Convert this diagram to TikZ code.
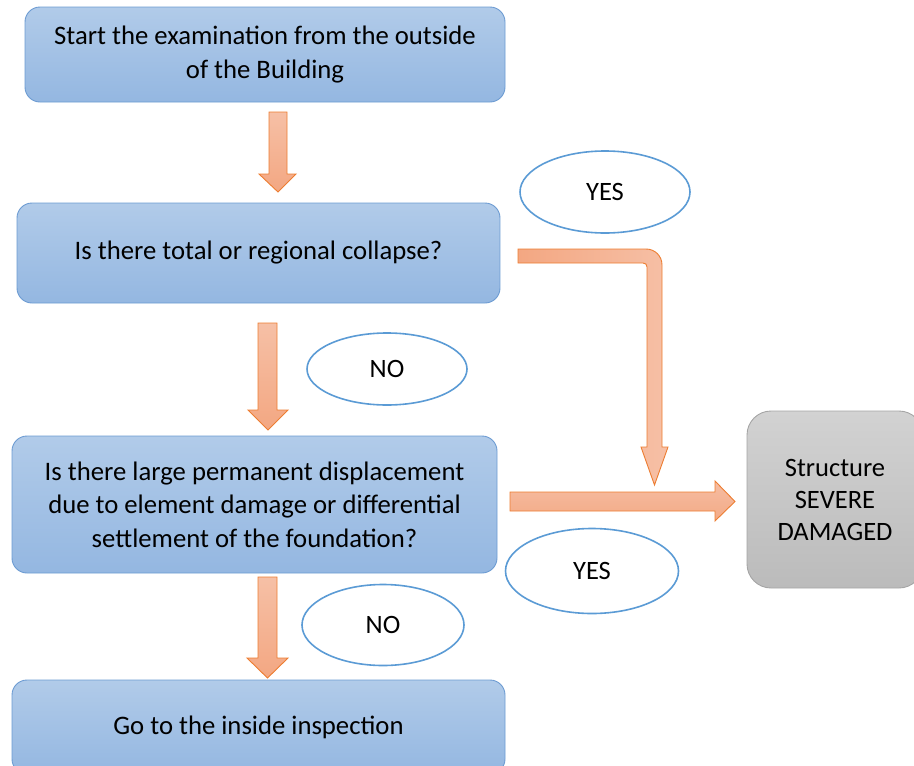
\documentclass[tikz,border=0pt]{standalone}
\usepackage{fontspec}
\setmainfont{Carlito}
\usetikzlibrary{shapes.geometric}
\definecolor{boxtop}{HTML}{B1CBE9}
\definecolor{boxbot}{HTML}{94B7E1}
\definecolor{boxline}{HTML}{6C9BD2}
\definecolor{arrline}{HTML}{ED7D31}
\definecolor{arrlight}{HTML}{F6C0A6}
\definecolor{arrdark}{HTML}{F3A782}
\definecolor{graytop}{HTML}{D2D2D2}
\definecolor{graybot}{HTML}{BBBBBB}
\definecolor{grayline}{HTML}{A5A5A5}
\definecolor{ellline}{HTML}{5B9BD5}
\tikzset{
  bluebox/.style={rectangle, rounded corners=15pt, draw=boxline, line width=0.9pt,
    top color=boxtop, bottom color=boxbot, align=center, inner sep=0pt,
    font=\fontsize{26.7}{33.5}\selectfont},
  graybox/.style={rectangle, rounded corners=24pt, draw=grayline, line width=0.9pt,
    top color=graytop, bottom color=graybot, align=center, inner sep=0pt,
    font=\fontsize{26.5}{32}\selectfont},
  answer/.style={ellipse, draw=ellline, line width=1.6pt, fill=white, inner sep=0pt,
    font=\fontsize{26.5}{30}\selectfont},
  blockarrow/.style={draw=arrline, line width=0.9pt, top color=arrlight, bottom color=arrdark},
  harrow/.style={draw=arrline, line width=0.9pt, left color=arrdark, right color=arrlight},
}
\begin{document}
\begin{tikzpicture}[x=1pt,y=-1pt]
\useasboundingbox (0,0) rectangle (914,766);
% boxes
\node[bluebox, minimum width=480pt, minimum height=95pt] (b1) at (265,54.5)
  {Start the examination from the outside\\of the Building};
\node[bluebox, minimum width=483pt, minimum height=100pt] (b2) at (258.5,253)
  {Is there total or regional collapse?};
\node[bluebox, minimum width=485pt, minimum height=137pt] (b3) at (254.5,504.5)
  {Is there large permanent displacement\\due to element damage or differential\\settlement of the foundation?};
\node[bluebox, minimum width=493pt, minimum height=94pt] (b4) at (258.5,727)
  {Go to the inside inspection};
\node[graybox, minimum width=176pt, minimum height=177pt] (dmg) at (835,499.5)
  {Structure\\SEVERE\\DAMAGED};
% answers
\node[answer, minimum width=170pt, minimum height=82pt] (yes1) at (605,192) {YES};
\node[answer, minimum width=160pt, minimum height=72pt] (no1) at (387,369) {NO};
\node[answer, minimum width=173pt, minimum height=85pt] (yes2) at (592,571) {YES};
\node[answer, minimum width=162pt, minimum height=81pt] (no2) at (383,625) {NO};
% arrows
\draw[blockarrow] (269,112) -- (287,112) -- (287,174) -- (296,174) -- (278,192)
  -- (259,174) -- (269,174) -- cycle;
\draw[blockarrow] (258,323) -- (277,323) -- (277,410) -- (288,410) -- (268,430)
  -- (248,410) -- (258,410) -- cycle;
\draw[blockarrow] (258,577) -- (277,577) -- (277,658) -- (288,658) -- (267.5,678)
  -- (247,658) -- (258,658) -- cycle;
\draw[harrow] (518,249) -- (646,249) .. controls (655,249) and (662,256) .. (662,265)
  -- (662,447) -- (668,447) -- (654.5,485) -- (641,447) -- (647,447) -- (647,267)
  .. controls (647,264.5) and (645.5,263) .. (643,263) -- (518,263) -- cycle;
\draw[blockarrow, top color=arrlight!90!arrdark, bottom color=arrdark!90!arrlight]
  (510,492) -- (715,492) -- (715,481) -- (735,501.5) -- (715,521) -- (715,511)
  -- (510,511) -- cycle;
\end{tikzpicture}
\end{document}
